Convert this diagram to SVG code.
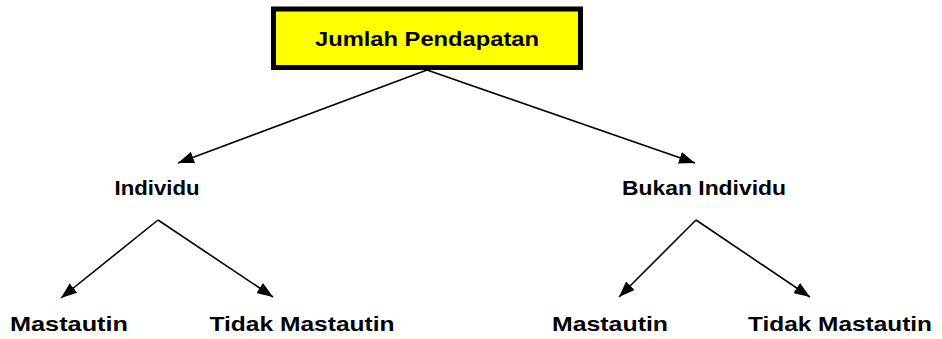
<svg xmlns="http://www.w3.org/2000/svg" width="942" height="339" viewBox="0 0 942 339">
<style>
text{font-family:"Liberation Sans",Arial,sans-serif;font-weight:bold;font-size:21px;fill:#000}
.c line{stroke:#000;stroke-width:1.6}
</style>
<defs>
<marker id="ah" markerUnits="userSpaceOnUse" viewBox="0 0 16 12" refX="16" refY="6" markerWidth="16" markerHeight="12" orient="auto">
<path d="M0,0 L16,6 L0,12 Z" fill="#000"/>
</marker>
</defs>
<rect width="942" height="339" fill="#fff"/>
<g id="root">
<rect x="273.5" y="9" width="307" height="58.5" fill="#ffff00" stroke="#000" stroke-width="5"/>
<text x="427" y="46" text-anchor="middle" textLength="224" lengthAdjust="spacingAndGlyphs" style="font-size:20px">Jumlah Pendapatan</text>
</g>
<g id="individu"><text x="157" y="195" text-anchor="middle" textLength="85" lengthAdjust="spacingAndGlyphs">Individu</text></g>
<g id="bukan"><text x="704" y="195" text-anchor="middle" textLength="164" lengthAdjust="spacingAndGlyphs">Bukan Individu</text></g>
<g id="m1"><text x="69" y="331" text-anchor="middle" textLength="118" lengthAdjust="spacingAndGlyphs">Mastautin</text></g>
<g id="t1"><text x="302" y="331" text-anchor="middle" textLength="185" lengthAdjust="spacingAndGlyphs">Tidak Mastautin</text></g>
<g id="m2"><text x="610" y="331" text-anchor="middle" textLength="116" lengthAdjust="spacingAndGlyphs">Mastautin</text></g>
<g id="t2"><text x="840" y="331" text-anchor="middle" textLength="184" lengthAdjust="spacingAndGlyphs">Tidak Mastautin</text></g>
<g class="c" id="connectors">
<line x1="427" y1="70" x2="178" y2="163" marker-end="url(#ah)"/>
<line x1="427" y1="70" x2="695" y2="163" marker-end="url(#ah)"/>
<line x1="158" y1="220" x2="61" y2="298" marker-end="url(#ah)"/>
<line x1="158" y1="220" x2="273" y2="297" marker-end="url(#ah)"/>
<line x1="696" y1="220" x2="619" y2="297" marker-end="url(#ah)"/>
<line x1="696" y1="220" x2="810" y2="297" marker-end="url(#ah)"/>
</g>
</svg>
